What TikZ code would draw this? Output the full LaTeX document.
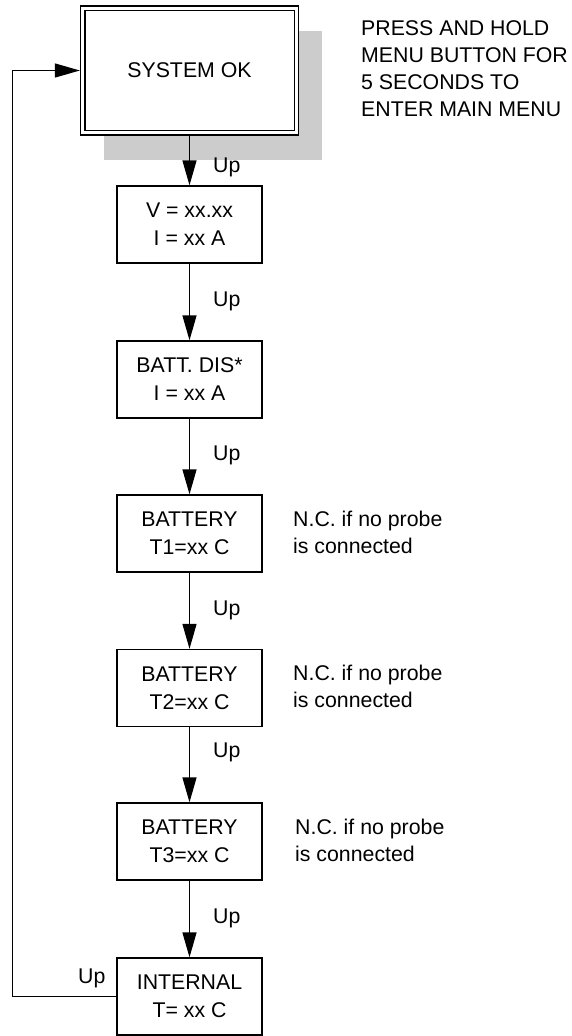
\documentclass[tikz,border=0pt]{standalone}
\usepackage{fontspec}
\setmainfont{Liberation Sans}
\usetikzlibrary{arrows.meta}
\begin{document}
\begin{tikzpicture}[x=1pt,y=-1pt,
  every node/.style={inner sep=0pt},
  box/.style={draw, line width=1.3pt, fill=white, minimum width=145pt, minimum height=77pt,
    align=center, font=\fontsize{21.3}{28}\selectfont},
  lbl/.style={anchor=base west, font=\fontsize{21.3}{26}\selectfont},
  note/.style={anchor=north west, align=left, font=\fontsize{21.3}{27}\selectfont},
  arr/.style={line width=1.3pt, -{Triangle[length=25pt,width=14pt]}}]
\useasboundingbox (0,0) rectangle (572,1036);
% shadow
\fill[gray!40] (104,31) rectangle (322,160);
% main node
\node[draw, line width=1.3pt, fill=white, minimum width=218pt, minimum height=129pt,
  font=\fontsize{21.3}{28}\selectfont] (sys) at (189.5,70.5) {SYSTEM OK};
\draw[line width=1.3pt] ([shift={(5,5)}]sys.north west) rectangle ([shift={(-5,-5)}]sys.south east);
\node[note] (press) at (361,20.7) {PRESS AND HOLD\\MENU BUTTON FOR\\5 SECONDS TO\\ENTER MAIN MENU};
% boxes
\node[box] (v) at (189.5,224.5) {V = xx.xx\\I = xx A};
\node[box] (batt) at (189.5,379.5) {BATT. DIS*\\I = xx A};
\node[box] (t1) at (189.5,533.5) {BATTERY\\T1=xx C};
\node[box] (t2) at (189.5,688) {BATTERY\\T2=xx C};
\node[box] (t3) at (189.5,841.5) {BATTERY\\T3=xx C};
\node[box] (int) at (189.5,996.5) {INTERNAL\\T= xx C};
% notes
\node[note] (n1) at (293,510.5) {N.C. if no probe\\is connected};
\node[note] (n2) at (293,664.5) {N.C. if no probe\\is connected};
\node[note] (n3) at (295,818.5) {N.C. if no probe\\is connected};
% arrows
\draw[arr] (sys.south) -- (v.north);
\draw[arr] (v.south) -- (batt.north);
\draw[arr] (batt.south) -- (t1.north);
\draw[arr] (t1.south) -- (t2.north);
\draw[arr] (t2.south) -- (t3.north);
\draw[arr] (t3.south) -- (int.north);
\draw[arr] (int.west) -- ++(-104,0) coordinate (lc) |- (sys.west);
% labels
\node[lbl] (u1) at (213,172) {Up};
\node[lbl] (u2) at (213,306) {Up};
\node[lbl] (u3) at (213,460) {Up};
\node[lbl] (u4) at (213,615) {Up};
\node[lbl] (u5) at (213,757) {Up};
\node[lbl] (u6) at (213,923) {Up};
\node[lbl] (u7) at (78,983) {Up};
\end{tikzpicture}
\end{document}
